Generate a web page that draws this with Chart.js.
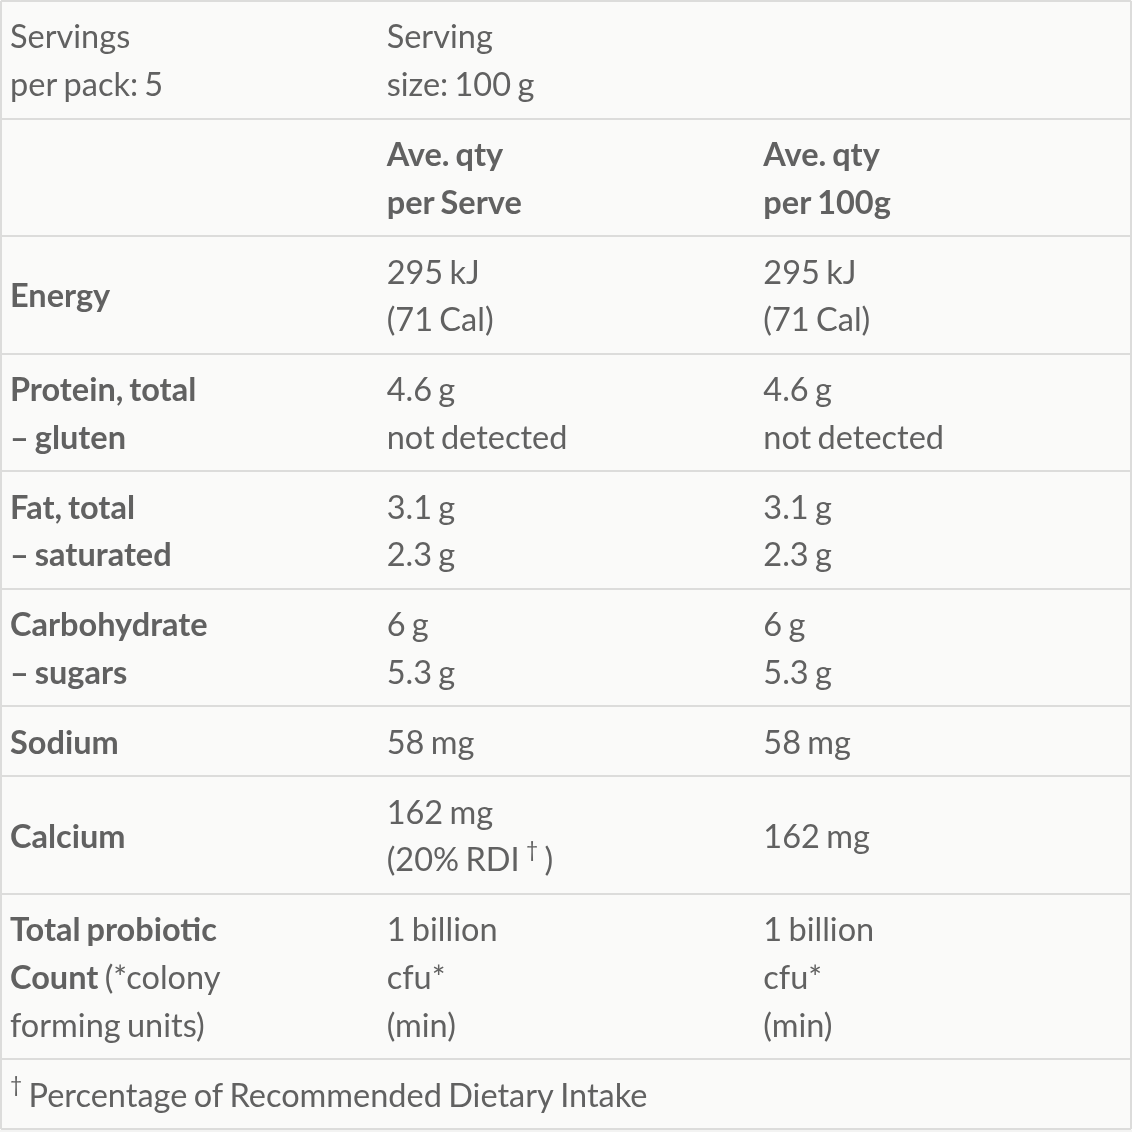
<!DOCTYPE html>
<html>
<head>
<meta charset="utf-8">
<script src="https://cdn.jsdelivr.net/npm/chart.js"></script>
<style>
  html, body { margin: 0; padding: 0; background: #f3f3f2; }
  #wrap { position: relative; width: 1132px; height: 1130px; background: #fafaf9; }
</style>
</head>
<body>
<div id="wrap"><canvas id="panel"></canvas></div>
<script>
// table content, one entry per row; "\n" splits lines, **x** is bold, ^x^ is superscript
const nutrientCol = [
  "Servings\nper pack: 5",
  "",
  "**Energy**",
  "**Protein, total**\n**– gluten**",
  "**Fat, total**\n**– saturated**",
  "**Carbohydrate**\n**– sugars**",
  "**Sodium**",
  "**Calcium**",
  "**Total probiotic**\n**Count** (*colony\nforming units)"
];
const perServeCol = [
  "Serving\nsize: 100 g",
  "**Ave. qty**\n**per Serve**",
  "295 kJ\n(71 Cal)",
  "4.6 g\nnot detected",
  "3.1 g\n2.3 g",
  "6 g\n5.3 g",
  "58 mg",
  "162 mg\n(20% RDI ^†^ )",
  "1 billion\ncfu*\n(min)"
];
const per100gCol = [
  "",
  "**Ave. qty**\n**per 100g**",
  "295 kJ\n(71 Cal)",
  "4.6 g\nnot detected",
  "3.1 g\n2.3 g",
  "6 g\n5.3 g",
  "58 mg",
  "162 mg",
  "1 billion\ncfu*\n(min)"
];
const footnote = "^†^ Percentage of Recommended Dietary Intake";

const LINE = 47.6;     // line height in y units
const PAD = 22.3;      // vertical padding per row
const FONT = "Lato";
const SIZE = 32.5;
const INK = "#616161";

const lineCount = s => s === "" ? 1 : s.split("\n").length;

// row heights and centres
const rowLines = nutrientCol.map((s, i) =>
  Math.max(lineCount(s), lineCount(perServeCol[i]), lineCount(per100gCol[i])));
rowLines.push(lineCount(footnote));
const rowEdges = [0];
rowLines.forEach(n => rowEdges.push(rowEdges[rowEdges.length - 1] + n * LINE + PAD));
const rowMid = rowLines.map((n, i) => (rowEdges[i] + rowEdges[i + 1]) / 2);
const total = rowEdges[rowEdges.length - 1];

function cells(col, texts) {
  return texts.map((t, i) => ({ x: col, y: rowMid[i], text: t }));
}

function segments(line) {
  const out = [];
  const re = /\*\*(.+?)\*\*|\^(.+?)\^/g;
  let last = 0, m;
  while ((m = re.exec(line))) {
    if (m.index > last) out.push({ t: line.slice(last, m.index), s: "n" });
    if (m[1] !== undefined) out.push({ t: m[1], s: "b" });
    else out.push({ t: m[2], s: "sup" });
    last = re.lastIndex;
  }
  if (last < line.length) out.push({ t: line.slice(last), s: "n" });
  return out;
}

const cellText = {
  id: "cellText",
  afterDatasetsDraw(chart) {
    const ctx = chart.ctx;
    const y = chart.scales.y;
    const lh = Math.abs(y.getPixelForValue(LINE) - y.getPixelForValue(0));
    ctx.save();
    ctx.fillStyle = INK;
    ctx.textBaseline = "middle";
    ctx.textAlign = "left";
    ctx.wordSpacing = "-2px";
    chart.data.datasets.forEach((ds, di) => {
      const meta = chart.getDatasetMeta(di);
      meta.data.forEach((pt, i) => {
        const raw = ds.data[i];
        if (!raw.text) return;
        const lines = raw.text.split("\n");
        lines.forEach((ln, k) => {
          const py = pt.y + 2 + (k - (lines.length - 1) / 2) * lh;
          let px = pt.x + 9;
          segments(ln).forEach(seg => {
            let dy = 0;
            if (seg.s === "b") ctx.font = "700 " + SIZE + "px " + FONT;
            else if (seg.s === "sup") { ctx.font = "400 " + Math.round(SIZE * 0.66) + "px " + FONT; dy = -SIZE * 0.32; }
            else ctx.font = "400 " + SIZE + "px " + FONT;
            ctx.fillText(seg.t, px, py + dy);
            px += ctx.measureText(seg.t).width;
          });
        });
      });
    });
    ctx.restore();
  }
};

const hidden = { showLine: false, pointRadius: 0, pointHoverRadius: 0 };

new Chart(document.getElementById("panel"), {
  type: "scatter",
  data: {
    datasets: [
      Object.assign({ label: "nutrient", data: cells(0, nutrientCol) }, hidden),
      Object.assign({ label: "per serve", data: cells(1, perServeCol) }, hidden),
      Object.assign({ label: "per 100g", data: cells(2, per100gCol) }, hidden),
      Object.assign({ label: "footnote", data: [{ x: 0, y: rowMid[rowMid.length - 1], text: footnote }] }, hidden)
    ]
  },
  options: {
    responsive: true,
    maintainAspectRatio: false,
    animation: false,
    events: [],
    layout: { padding: { left: 1, right: 1, top: 1, bottom: 1 } },
    plugins: { legend: { display: false }, tooltip: { enabled: false } },
    scales: {
      x: {
        type: "linear", min: 0, max: 3,
        afterBuildTicks: s => { s.ticks = [{ value: 0 }, { value: 3 }]; },
        ticks: { display: false },
        border: { display: false },
        grid: { color: "#dcdcdb", lineWidth: 2, drawTicks: false }
      },
      y: {
        type: "linear", min: 0, max: total, reverse: true,
        afterBuildTicks: s => { s.ticks = rowEdges.map(v => ({ value: v })); },
        ticks: { display: false },
        border: { display: false },
        grid: { color: "#dcdcdb", lineWidth: 2, drawTicks: false }
      }
    }
  },
  plugins: [cellText]
});
</script>
</body>
</html>
